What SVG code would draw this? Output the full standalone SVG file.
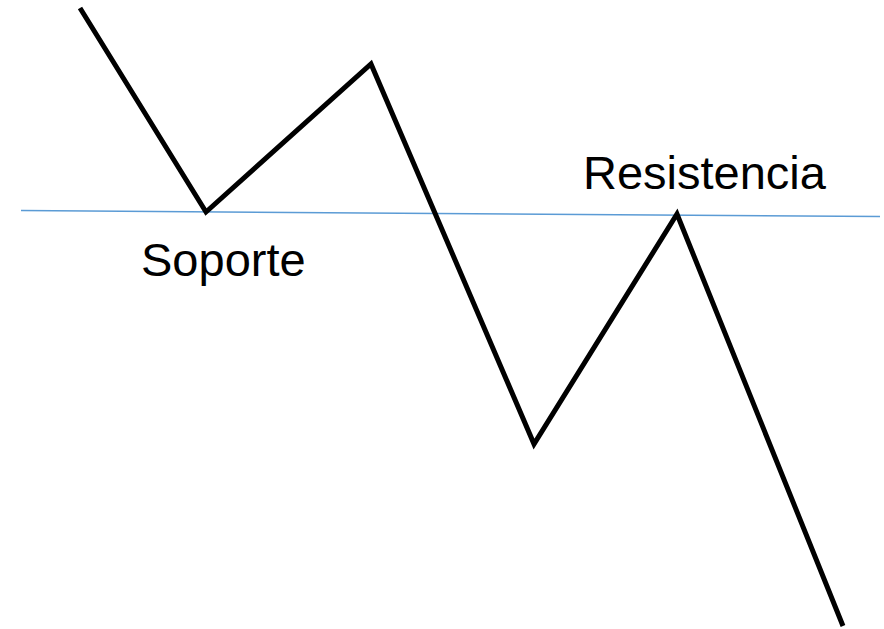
<svg xmlns="http://www.w3.org/2000/svg" width="884" height="629" viewBox="0 0 884 629">
<style>
.lbl{font-family:"Liberation Sans",Arial,sans-serif;font-size:47px;fill:#000}
</style>
<rect width="884" height="629" fill="#fff"/>
<g id="connectors">
<line x1="21" y1="210.5" x2="880" y2="216.5" stroke="#5b9bd5" stroke-width="1.5"/>
<polyline points="80,8 206,212 371,64 534,444 677,214 843,626" fill="none" stroke="#000" stroke-width="5" stroke-linejoin="miter"/>
</g>
<g id="soporte"><text class="lbl" x="141" y="276">Soporte</text></g>
<g id="resistencia"><text class="lbl" x="583" y="189">Resistencia</text></g>
</svg>
